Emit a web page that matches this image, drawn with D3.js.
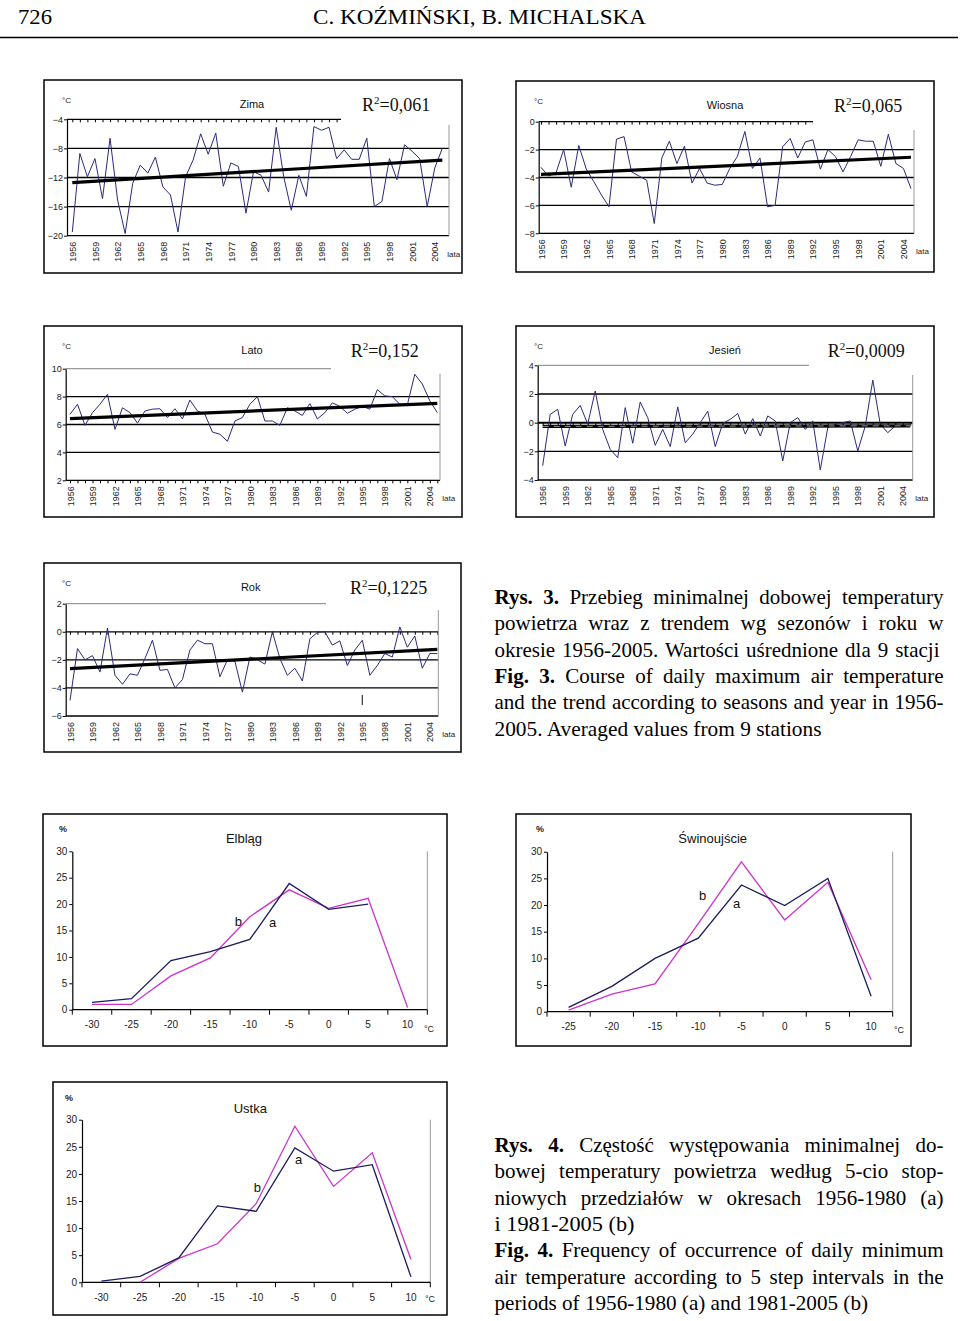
<!doctype html>
<html>
<head>
<meta charset="utf-8">
<title>Rys. 3, Rys. 4</title>
<script src="https://cdn.jsdelivr.net/npm/d3@7/dist/d3.min.js"></script>
<style>
  body { margin: 0; background: #fff; }
  svg text { font-family: "Liberation Sans", Arial, sans-serif; }
  svg text.serif { font-family: "Liberation Serif", "Times New Roman", serif; }
</style>
</head>
<body>
<script>

// ---- DATA ----
var years = d3.range(1956, 2006);
var yearTicks = [1956, 1959, 1962, 1965, 1968, 1971, 1974, 1977, 1980, 1983, 1986, 1989, 1992, 1995, 1998, 2001, 2004];

var zima = [-19.5, -8.7, -11.9, -9.4, -14.9, -6.6, -15.1, -19.7, -12.8, -10.3,
            -11.4, -9.2, -13.3, -14.4, -19.5, -11.9, -9.6, -6.0, -8.8, -5.9,
            -13.2, -10.0, -10.5, -16.9, -11.2, -11.7, -14.0, -5.1, -11.9, -16.5,
            -11.7, -14.6, -5.0, -5.5, -5.1, -9.4, -8.2, -9.5, -9.5, -6.6,
            -16.0, -15.3, -9.4, -12.3, -7.5, -8.4, -9.4, -16.0, -10.7, -8.0];
var wiosna = [-3.27, -3.9, -3.65, -2.0, -4.7, -1.7, -3.4, -4.3, -5.25, -6.1,
              -1.25, -1.07, -3.6, -3.9, -4.2, -7.3, -2.6, -1.4, -3.0, -1.75,
              -4.4, -3.35, -4.4, -4.55, -4.5, -3.35, -2.5, -0.7, -3.35, -2.6,
              -6.1, -6.0, -1.8, -1.2, -2.6, -1.45, -1.3, -3.4, -2.0, -2.5,
              -3.6, -2.5, -1.3, -1.4, -1.4, -3.2, -0.9, -3.0, -3.35, -4.8];
var lato = [6.73, 7.45, 5.94, 6.85, 7.45, 8.16, 5.65, 7.2, 6.85, 6.1,
            6.97, 7.1, 7.13, 6.5, 7.13, 6.4, 7.75, 6.97, 6.73, 5.46,
            5.3, 4.8, 6.25, 6.5, 7.45, 8.0, 6.25, 6.25, 5.94, 7.2,
            6.97, 6.65, 7.5, 6.4, 6.85, 7.55, 7.3, 6.8, 7.1, 7.3,
            7.1, 8.5, 8.05, 8.0, 7.45, 7.4, 9.6, 8.9, 7.7, 6.85];
var jesien = [-3.0, 0.58, 0.93, -1.63, 0.58, 1.2, -0.1, 2.2, -0.47, -1.86,
              -2.44, 1.05, -1.44, 1.44, 0.35, -1.58, -0.47, -1.67, 1.1, -1.4,
              -0.8, 0.0, 0.8, -1.67, -0.05, 0.23, 0.63, -0.8, 0.28, -0.93,
              0.47, 0.12, -2.67, 0.0, 0.35, -0.47, 0.12, -3.3, -0.35, -0.12,
              0.0, 0.12, -1.98, -0.23, 2.97, -0.12, -0.7, -0.23, -0.23, -0.23];
var rok = [-4.9, -1.2, -2.0, -1.7, -2.87, 0.27, -3.1, -3.74, -3.0, -3.1,
           -1.9, -0.6, -2.75, -2.68, -4.0, -3.4, -1.3, -0.6, -0.85, -0.85,
           -3.2, -2.0, -2.1, -4.3, -1.8, -2.0, -2.3, 0.0, -1.9, -3.1,
           -2.6, -3.5, -0.5, -0.05, 0.0, -0.95, -0.65, -2.4, -1.3, -0.6,
           -3.1, -2.4, -1.55, -1.8, 0.35, -1.1, -0.3, -2.6, -1.55, -1.55];

// trend values at 1956 and 2005
var trendZima = [-12.7, -9.6];
var trendWiosna = [-3.77, -2.55];
var trendLato = [6.42, 7.52];
var trendJesien = [-0.26, -0.22];
var trendRok = [-2.63, -1.25];

// frequency charts (%), a = 1956-1980, b = 1981-2005
var catsElblag = [-30, -25, -20, -15, -10, -5, 0, 5, 10];
var elblagA = [1.4, 2.1, 9.3, 11.0, 13.3, 23.9, 19.0, 20.0, null];
var elblagB = [1.0, 1.0, 6.4, 9.8, 17.6, 22.7, 19.2, 21.1, 0.4];

var catsSwin = [-25, -20, -15, -10, -5, 0, 5, 10];
var swinA = [0.8, 4.75, 10.0, 13.8, 23.75, 19.9, 25.0, 2.9];
var swinB = [0.3, 3.3, 5.2, 16.5, 28.1, 17.2, 24.25, 6.0];

var catsUstka = [-30, -25, -20, -15, -10, -5, 0, 5, 10];
var ustkaA = [0.2, 1.1, 4.5, 14.1, 13.1, 24.8, 20.5, 21.7, 1.0];
var ustkaB = [null, 0.0, 4.4, 7.1, 14.5, 28.8, 17.7, 23.9, 4.2];

var pctTicks = [0, 5, 10, 15, 20, 25, 30];

// ---- PAGE ----
var W = 960, H = 1321;
var svg = d3.select("body").append("svg").attr("width", W).attr("height", H);

// header
svg.append("text").attr("class", "serif").attr("x", 18).attr("y", 24)
   .attr("font-size", 22).attr("textLength", 34).attr("lengthAdjust", "spacingAndGlyphs").text("726");
svg.append("text").attr("class", "serif").attr("x", 313).attr("y", 24)
   .attr("font-size", 22).attr("textLength", 333).attr("lengthAdjust", "spacingAndGlyphs")
   .text("C. KOŹMIŃSKI, B. MICHALSKA");
svg.append("line").attr("x1", 0).attr("x2", 958).attr("y1", 37.5).attr("y2", 37.5)
   .attr("stroke", "#000").attr("stroke-width", 1.5);

// ---- TIME SERIES CHARTS ----
function seriesChart(c) {
  var L = c.lay;
  var g = svg.append("g").attr("transform", "translate(" + c.box[0] + "," + c.box[1] + ")");
  g.append("rect").attr("width", c.box[2]).attr("height", c.box[3])
   .attr("fill", "#fff").attr("stroke", "#000").attr("stroke-width", 1.5);

  var x = d3.scaleLinear().domain([years[0], years[years.length - 1]]).range([L.x0, L.x1]);
  var y = d3.scaleLinear().domain(c.dom).range([L.bottom, L.top]);

  // horizontal grid lines
  g.selectAll("line.grid").data(c.ticks).enter().append("line")
   .attr("class", "grid")
   .attr("x1", L.left).attr("x2", L.right)
   .attr("y1", function(d){ return y(d); }).attr("y2", function(d){ return y(d); })
   .attr("stroke", function(d){ return (d === c.dom[1] && c.topGray) ? "#999" : "#000"; })
   .attr("stroke-width", function(d){ return d === c.boldAt ? 2 : 1.3; });

  // year ticks on the axis line
  g.append("g").attr("transform", "translate(0," + y(c.axisAt) + ")")
   .call(d3.axisBottom(x).tickValues(years).tickSize(3).tickSizeOuter(0).tickFormat(""))
   .call(function(a){ a.select(".domain").remove(); a.selectAll("line").attr("stroke", "#000"); });

  // left axis
  g.append("g").attr("transform", "translate(" + L.left + ",0)")
   .call(d3.axisLeft(y).tickValues(c.ticks).tickSize(3).tickSizeOuter(0).tickPadding(1))
   .call(function(a){
     a.select(".domain").attr("stroke", "#000").attr("stroke-width", 1.2);
     a.selectAll("text").attr("font-size", 9).attr("fill", "#222").attr("font-family", "Liberation Sans, Arial, sans-serif");
   });

  // year labels
  g.append("g").attr("transform", "translate(0," + L.bottom + ")")
   .call(d3.axisBottom(x).tickValues(yearTicks).tickSize(0).tickFormat(d3.format("d")))
   .call(function(a){
     a.select(".domain").remove();
     a.selectAll("text").attr("transform", "rotate(-90)").attr("text-anchor", "end")
      .attr("x", -6).attr("y", 0).attr("dy", "0.35em")
      .attr("font-size", 9).attr("fill", "#222").attr("font-family", "Liberation Sans, Arial, sans-serif");
   });

  // white label box at top right
  g.append("rect").attr("x", L.topEnd).attr("y", 1).attr("width", c.box[2] - L.topEnd - 1.5)
   .attr("height", L.rightStart - 1).attr("fill", "#fff");
  g.append("line").attr("x1", L.right).attr("x2", L.right).attr("y1", L.rightStart).attr("y2", L.bottom)
   .attr("stroke", "#999").attr("stroke-width", 1);

  // series
  var line = d3.line().x(function(d, i){ return x(years[i]); }).y(function(d){ return y(d); });
  g.append("path").datum(c.data).attr("d", line)
   .attr("fill", "none").attr("stroke", "#2a2a7c").attr("stroke-width", 1);

  // trend
  g.append("line")
   .attr("x1", x(years[0])).attr("y1", y(c.trend[0]))
   .attr("x2", x(years[years.length - 1])).attr("y2", y(c.trend[1]))
   .attr("stroke", "#000").attr("stroke-width", 3.2);
  if (c.dashTrend) {
    g.append("line")
     .attr("x1", x(years[0])).attr("y1", y(c.trend[0]))
     .attr("x2", x(years[years.length - 1])).attr("y2", y(c.trend[1]))
     .attr("stroke", "#bbb").attr("stroke-width", 0.8).attr("stroke-dasharray", "6,5");
  }

  // texts
  g.append("text").attr("x", 18).attr("y", 23).attr("font-size", 8).attr("fill", "#222").text("°C");
  g.append("text").attr("x", L.titleX).attr("y", 28).attr("text-anchor", "middle")
   .attr("font-size", 11).attr("fill", "#111").text(c.title);
  var r = g.append("text").attr("class", "serif").attr("x", L.r2X).attr("y", 31).attr("font-size", 18).attr("fill", "#111");
  r.append("tspan").text("R");
  r.append("tspan").attr("dy", -7).attr("font-size", 11).text("2");
  r.append("tspan").attr("dy", 7).text("=" + c.r2);
  g.append("text").attr("x", L.x1 + 5).attr("y", L.bottom + 21).attr("font-size", 8).attr("fill", "#222").text("lata");
  return g;
}

seriesChart({
  box: [44, 80, 418, 193], title: "Zima", r2: "0,061", data: zima, trend: trendZima,
  dom: [-20, -4], ticks: [-20, -16, -12, -8, -4], axisAt: -4, topGray: false,
  lay: { left: 23, top: 39.3, bottom: 155.7, x0: 28.3, x1: 398.3, right: 405, topEnd: 297, rightStart: 45, titleX: 208, r2X: 318 }
});
seriesChart({
  box: [516, 81, 418, 191], title: "Wiosna", r2: "0,065", data: wiosna, trend: trendWiosna,
  dom: [-8, 0], ticks: [-8, -6, -4, -2, 0], axisAt: 0, topGray: false,
  lay: { left: 22.7, top: 40.7, bottom: 152.3, x0: 25, x1: 395, right: 398, topEnd: 297, rightStart: 49, titleX: 209, r2X: 318 }
});
seriesChart({
  box: [44, 326, 418, 191], title: "Lato", r2: "0,152", data: lato, trend: trendLato,
  dom: [2, 10], ticks: [2, 4, 6, 8, 10], axisAt: 2, topGray: true,
  lay: { left: 21.7, top: 42.7, bottom: 154.3, x0: 26, x1: 393.3, right: 396, topEnd: 287, rightStart: 47.7, titleX: 208, r2X: 306.7 }
});
seriesChart({
  box: [516, 326, 418, 191], title: "Jesień", r2: "0,0009", data: jesien, trend: trendJesien,
  dom: [-4, 4], ticks: [-4, -2, 0, 2, 4], axisAt: 0, topGray: true, boldAt: 0, dashTrend: true,
  lay: { left: 21.7, top: 39.3, bottom: 154, x0: 26.7, x1: 394.3, right: 396.7, topEnd: 293, rightStart: 49, titleX: 209, r2X: 311.7 }
});
var rokG = seriesChart({
  box: [44, 563, 417, 189], title: "Rok", r2: "0,1225", data: rok, trend: trendRok,
  dom: [-6, 2], ticks: [-6, -4, -2, 0, 2], axisAt: 0, topGray: true,
  lay: { left: 21.7, top: 40.7, bottom: 153, x0: 26, x1: 393.3, right: 394.3, topEnd: 282, rightStart: 47, titleX: 206.7, r2X: 306 }
});
// small stray mark in the scanned Rok panel
rokG.append("line").attr("x1", 318.3).attr("x2", 318.3).attr("y1", 132).attr("y2", 142)
    .attr("stroke", "#333").attr("stroke-width", 1.2);

// ---- FREQUENCY CHARTS ----
function distChart(c) {
  var P = c.plot;
  var g = svg.append("g");
  g.append("rect").attr("x", c.box[0]).attr("y", c.box[1]).attr("width", c.box[2]).attr("height", c.box[3])
   .attr("fill", "#fff").attr("stroke", "#000").attr("stroke-width", 1.5);

  var x = d3.scaleBand().domain(c.cats).range([P.xl, P.xr]).paddingInner(0).paddingOuter(0);
  var y = d3.scaleLinear().domain([0, 30]).range([P.bottom, P.top]);

  // right border of plot area
  g.append("line").attr("x1", P.xr).attr("x2", P.xr).attr("y1", P.top).attr("y2", P.bottom)
   .attr("stroke", "#999").attr("stroke-width", 1);

  // y axis
  g.append("g").attr("transform", "translate(" + P.xl + ",0)")
   .call(d3.axisLeft(y).tickValues(pctTicks).tickSize(3).tickSizeOuter(0).tickPadding(2))
   .call(function(a){
     a.select(".domain").attr("stroke", "#000").attr("stroke-width", 1.2);
     a.selectAll("text").attr("font-size", 10).attr("fill", "#222").attr("font-family", "Liberation Sans, Arial, sans-serif");
   });

  // x axis line and boundary ticks
  var bounds = c.cats.map(function(d){ return x(d); }).concat([P.xr]);
  g.append("line").attr("x1", P.xl).attr("x2", P.xr).attr("y1", P.bottom).attr("y2", P.bottom)
   .attr("stroke", "#000").attr("stroke-width", 1.2);
  g.selectAll("line.bt").data(bounds).enter().append("line").attr("class", "bt")
   .attr("x1", function(d){ return d; }).attr("x2", function(d){ return d; })
   .attr("y1", P.bottom).attr("y2", P.bottom + 5).attr("stroke", "#000").attr("stroke-width", 1);

  // category labels
  g.append("g").attr("transform", "translate(0," + P.bottom + ")")
   .call(d3.axisBottom(x).tickSize(0).tickPadding(P.labPad))
   .call(function(a){
     a.select(".domain").remove();
     a.selectAll("text").attr("font-size", 10).attr("fill", "#222").attr("font-family", "Liberation Sans, Arial, sans-serif");
   });

  var line = d3.line()
    .defined(function(d){ return d != null; })
    .x(function(d, i){ return x(c.cats[i]) + x.bandwidth() / 2; })
    .y(function(d){ return y(d); });
  g.append("path").datum(c.b).attr("d", line).attr("fill", "none")
   .attr("stroke", "#cc33cc").attr("stroke-width", 1.3);
  g.append("path").datum(c.a).attr("d", line).attr("fill", "none")
   .attr("stroke", "#1c1c5c").attr("stroke-width", 1.3);

  // texts
  g.append("text").attr("x", c.title[1]).attr("y", c.title[2]).attr("text-anchor", "middle")
   .attr("font-size", 13).attr("fill", "#111").text(c.title[0]);
  g.append("text").attr("x", c.pct[0]).attr("y", c.pct[1]).attr("font-size", 9).attr("font-weight", "bold").attr("fill", "#222").text("%");
  g.append("text").attr("x", c.deg[0]).attr("y", c.deg[1]).attr("font-size", 9).attr("fill", "#222").text("°C");
  g.append("text").attr("x", c.labB[0]).attr("y", c.labB[1]).attr("font-size", 13).attr("fill", "#111").text("b");
  g.append("text").attr("x", c.labA[0]).attr("y", c.labA[1]).attr("font-size", 13).attr("fill", "#111").text("a");
}

distChart({
  box: [43, 814, 404, 232], cats: catsElblag, a: elblagA, b: elblagB,
  plot: { xl: 72.3, xr: 427.3, top: 851.3, bottom: 1009.7, labPad: 11 },
  title: ["Elbląg", 244, 843], pct: [59, 832], deg: [424, 1032], labB: [234.7, 926], labA: [269, 926.5]
});
distChart({
  box: [516, 814, 395, 232], cats: catsSwin, a: swinA, b: swinB,
  plot: { xl: 547, xr: 892.7, top: 851.7, bottom: 1011.7, labPad: 11 },
  title: ["Świnoujście", 712.7, 843], pct: [536, 832], deg: [894, 1033], labB: [699, 900], labA: [733, 908]
});
distChart({
  box: [53, 1082, 394, 233], cats: catsUstka, a: ustkaA, b: ustkaB,
  plot: { xl: 82, xr: 430.3, top: 1119.7, bottom: 1282.3, labPad: 12 },
  title: ["Ustka", 250.3, 1112.5], pct: [65, 1101], deg: [425, 1302], labB: [253.7, 1192], labA: [295, 1163.7]
});

// ---- CAPTIONS ----
function caption(lines, x0, y0, dy) {
  lines.forEach(function(ln, i) {
    var t = svg.append("text").attr("class", "serif").attr("x", x0).attr("y", y0 + i * dy)
      .attr("font-size", 21).attr("fill", "#000");
    ln.p.forEach(function(p){
      t.append("tspan").attr("font-weight", p.b ? "bold" : null).text(p.t);
    });
    var nat = t.node().getComputedTextLength();
    var spaces = (ln.p.map(function(p){ return p.t; }).join("").match(/ /g) || []).length;
    if (ln.j && nat < ln.w && spaces > 0) {
      t.attr("word-spacing", (ln.w - nat) / spaces);
    } else {
      t.attr("textLength", ln.w).attr("lengthAdjust", "spacingAndGlyphs");
    }
  });
}

caption([
  { p: [{ t: "Rys. 3.", b: true }, { t: " Przebieg minimalnej dobowej temperatury" }], w: 449, j: true },
  { p: [{ t: "powietrza wraz z trendem wg sezonów i roku w" }], w: 449, j: true },
  { p: [{ t: "okresie 1956-2005. Wartości uśrednione dla 9 stacji" }], w: 445, j: true },
  { p: [{ t: "Fig. 3.", b: true }, { t: " Course of daily maximum air temperature" }], w: 449, j: true },
  { p: [{ t: "and the trend according to seasons and year in 1956-" }], w: 449, j: true },
  { p: [{ t: "2005. Averaged values from 9 stations" }], w: 327, j: false }
], 494.5, 604, 26.35);

caption([
  { p: [{ t: "Rys. 4.", b: true }, { t: " Częstość występowania minimalnej do-" }], w: 449, j: true },
  { p: [{ t: "bowej temperatury powietrza według 5-cio stop-" }], w: 449, j: true },
  { p: [{ t: "niowych przedziałów w okresach 1956-1980 (a)" }], w: 449, j: true },
  { p: [{ t: "i 1981-2005 (b)" }], w: 140, j: false },
  { p: [{ t: "Fig. 4.", b: true }, { t: " Frequency of occurrence of daily minimum" }], w: 449, j: true },
  { p: [{ t: "air temperature according to 5 step intervals in the" }], w: 449, j: true },
  { p: [{ t: "periods of 1956-1980 (a) and 1981-2005 (b)" }], w: 373.5, j: false }
], 494.5, 1152, 26.3);

</script>
</body>
</html>
